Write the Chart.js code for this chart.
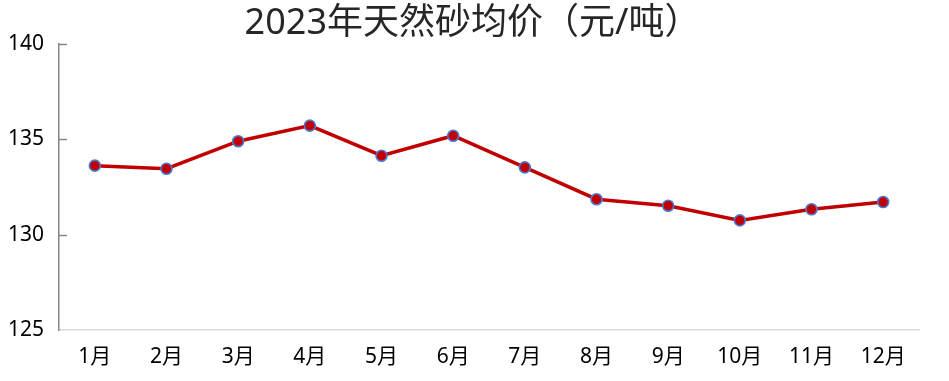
<!DOCTYPE html>
<html>
<head>
<meta charset="utf-8">
<script src="https://cdn.jsdelivr.net/npm/chart.js@4/dist/chart.umd.min.js"></script>
<style>
html,body{margin:0;padding:0;background:#fff;}
#wrap{width:949px;height:381px;}
</style>
</head>
<body>
<div id="wrap"><canvas id="c" width="949" height="381"></canvas></div>
<script>
const categories = ['1月','2月','3月','4月','5月','6月','7月','8月','9月','10月','11月','12月'];
const prices = [133.62,133.46,134.90,135.72,134.14,135.19,133.53,131.86,131.52,130.75,131.33,131.71];
const yTicks = [125,130,135,140];
const titleText = '2023年天然砂均价（元/吨）';

const FONT = '"Noto Sans","Noto Sans CJK SC",sans-serif';

const innerTicks = {
  id: 'innerTicks',
  afterDraw(chart) {
    const y = chart.scales.y;
    const ctx = chart.ctx;
    ctx.save();
    ctx.strokeStyle = '#868686';
    ctx.lineWidth = 1.5;
    y.ticks.forEach((t, i) => {
      if (t.value === y.min) return;
      const py = Math.round(y.getPixelForTick(i)) + 0.5;
      ctx.beginPath();
      ctx.moveTo(chart.chartArea.left, py);
      ctx.lineTo(chart.chartArea.left + 8, py);
      ctx.stroke();
    });
    ctx.restore();
  }
};

const pageTitle = {
  id: 'pageTitle',
  afterDraw(chart) {
    const ctx = chart.ctx;
    ctx.save();
    ctx.fillStyle = '#262626';
    ctx.font = '36px ' + FONT;
    ctx.textAlign = 'center';
    ctx.textBaseline = 'middle';
    ctx.fillText(titleText, chart.width / 2 - 2, 24);
    ctx.restore();
  }
};

new Chart(document.getElementById('c'), {
  type: 'line',
  data: {
    labels: categories,
    datasets: [{
      data: prices,
      borderColor: '#c00000',
      borderWidth: 3.5,
      backgroundColor: '#c00000',
      pointBackgroundColor: '#c00000',
      pointBorderColor: '#4a7bd0',
      pointBorderWidth: 1.6,
      pointRadius: 5.5,
      tension: 0,
      clip: false
    }]
  },
  options: {
    responsive: false,
    animation: false,
    layout: { padding: { left: 0, right: 30, top: 44, bottom: 0 } },
    plugins: {
      legend: { display: false },
      tooltip: { enabled: false },
      title: { display: false }
    },
    scales: {
      x: {
        offset: true,
        grid: { display: false, drawTicks: false },
        border: { display: true, color: '#d9d9d9', width: 1.5 },
        ticks: { color: '#000', font: { family: FONT, size: 21 }, padding: 14, maxRotation: 0 },
        afterFit(s) { s.height = 51; }
      },
      y: {
        min: 125, max: 140,
        afterBuildTicks(s) { s.ticks = yTicks.map(v => ({ value: v })); },
        grid: { display: false, drawTicks: false },
        border: { display: true, color: '#868686', width: 1.5 },
        ticks: { color: '#000', font: { family: FONT, size: 21 }, padding: 15 },
        afterFit(s) { s.width = 59; }
      }
    }
  },
  plugins: [innerTicks, pageTitle]
});
</script>
</body>
</html>
